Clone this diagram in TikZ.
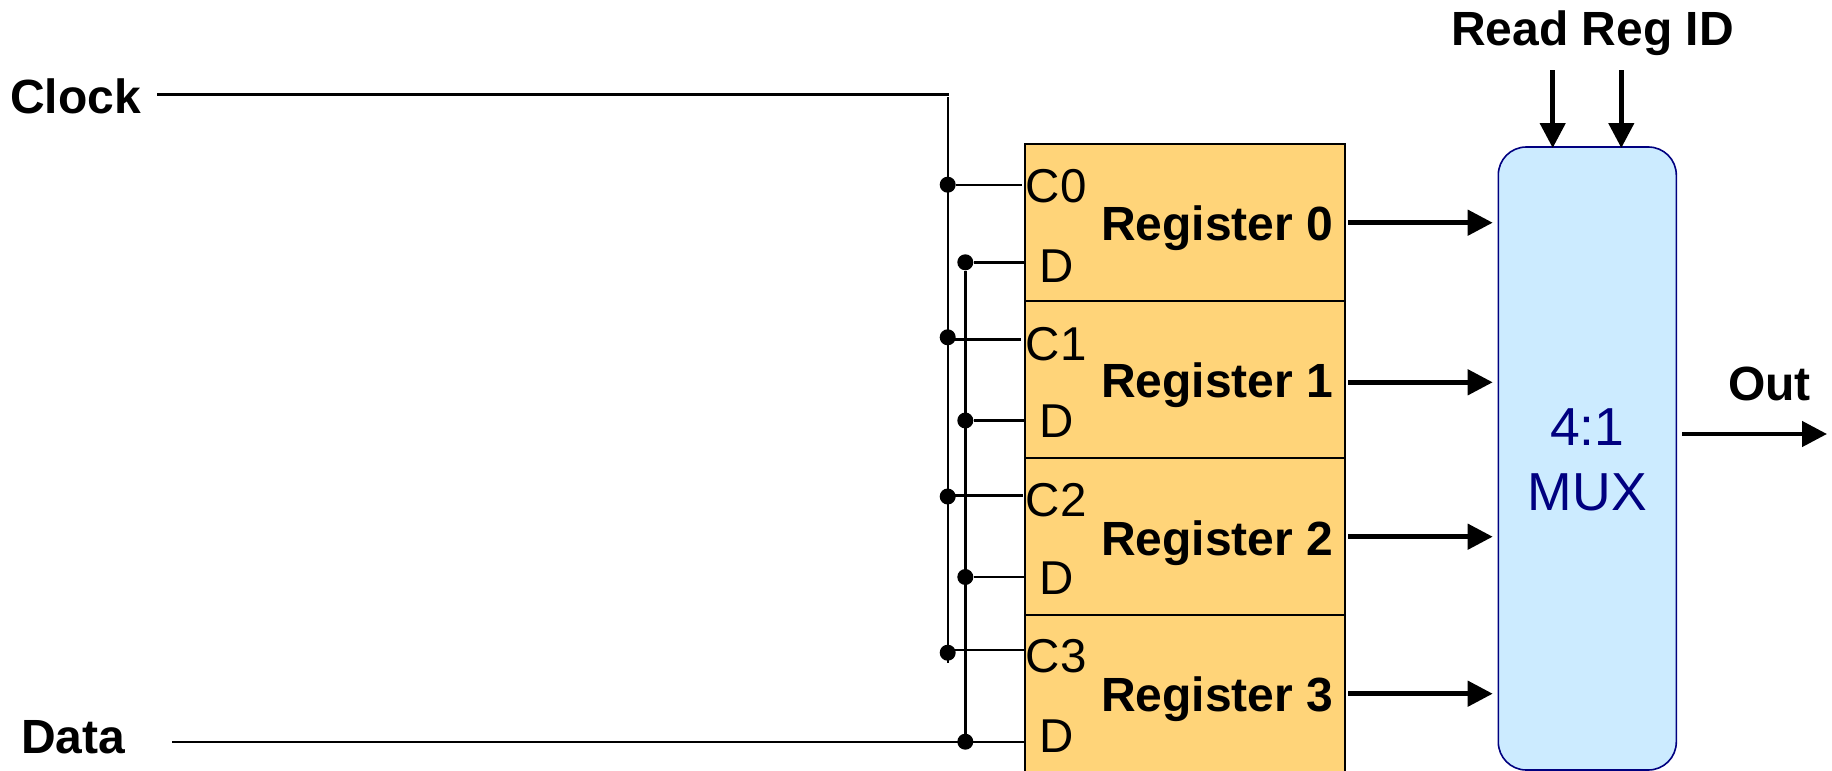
\documentclass[tikz,border=0pt]{standalone}
\usepackage{fontspec}
\setmainfont{Liberation Sans}
\usetikzlibrary{arrows.meta}
\definecolor{regfill}{HTML}{FFD479}
\definecolor{muxfill}{HTML}{CCEBFF}
\definecolor{muxline}{HTML}{000080}
\tikzset{
  regbox/.style={draw=black,line width=2pt,fill=regfill,rectangle,inner sep=0pt,minimum width=320.5pt},
  muxbox/.style={draw=muxline,line width=1.6pt,fill=muxfill,rectangle,rounded corners=28pt,inner sep=0pt,minimum width=178pt,minimum height=623pt},
  bold/.style={inner sep=0pt,anchor=base west,font=\fontsize{48}{48}\selectfont\bfseries},
  port/.style={inner sep=0pt,anchor=base west,font=\fontsize{47.5}{47.5}\selectfont},
  muxtext/.style={inner sep=0pt,anchor=base,text=muxline,font=\fontsize{53.5}{53.5}\selectfont},
  wire/.style={line width=2.4pt},
  bigarrow/.style={line width=4.6pt,-{Triangle[length=25pt,width=25pt]}},
  dot/.style={circle,fill=black,inner sep=0pt,minimum size=16pt}
}
\begin{document}
\begin{tikzpicture}[x=1pt,y=-1pt]
\useasboundingbox (0,0) rectangle (1832,771);
% boxes
\node[regbox,minimum height=157.3pt] (reg0) at (1184.75,222.5) {};
\node[regbox,minimum height=157.3pt] (reg1) at (1184.75,379.8) {};
\node[regbox,minimum height=156.7pt] (reg2) at (1184.75,536.8) {};
\node[regbox,minimum height=157pt] (reg3) at (1184.75,693.5) {};
\node[muxbox] (mux) at (1587.3,458.5) {};
% labels
\node[bold] (clock) at (10,113) {Clock};
\node[bold] (data) at (21,753) {Data};
\node[bold] (readid) at (1451,45.3) {Read Reg ID};
\node[bold] (out) at (1728,400) {Out};
\node[bold] (lab0) at (1101,240) {Register 0};
\node[bold] (lab1) at (1101,397) {Register 1};
\node[bold] (lab2) at (1101,555) {Register 2};
\node[bold] (lab3) at (1101,711.7) {Register 3};
\node[port] (c0) at (1025.5,202.7) {C0};
\node[port] (c1) at (1025.5,360.7) {C1};
\node[port] (c2) at (1025.5,516) {C2};
\node[port] (c3) at (1025.5,672.7) {C3};
\node[port] (d0) at (1039.5,282.5) {D};
\node[port] (d1) at (1039.5,437) {D};
\node[port] (d2) at (1039.5,594.3) {D};
\node[port] (d3) at (1039.5,752.3) {D};
\node[muxtext] (mux1) at (1587.3,445.7) {4:1};
\node[muxtext] (mux2) at (1587.3,510) {MUX};
% dots
\node[dot] (jc0) at (947.7,184.7) {};
\node[dot] (jc1) at (947.7,337.3) {};
\node[dot] (jc2) at (947.7,496.5) {};
\node[dot] (jc3) at (947.7,652.7) {};
\node[dot] (jd0) at (965.3,262.3) {};
\node[dot] (jd1) at (965.3,420.5) {};
\node[dot] (jd2) at (965.3,577) {};
\node[dot] (jd3) at (965.3,741.7) {};
% free wire ends
\coordinate (clkstart) at (157,94.3);
\coordinate (clkcorner) at (948.5,94.3);
\coordinate (clktop) at (947.7,97);
\coordinate (clkend) at (947.7,663);
\coordinate (datastart) at (172,741.7);
\coordinate (p0) at (1021.7,184.7);
\coordinate (p1) at (1021,339.5);
\coordinate (p2) at (1023,495.5);
\coordinate (p3) at (1024,650);
\coordinate (jc3w) at (947.7,650);
\coordinate (jc2w) at (947.7,495.5);
\coordinate (jc1w) at (947.7,339.5);
\coordinate (q0) at (1024.5,262.3);
\coordinate (q1) at (1024.5,420.5);
\coordinate (q2) at (1024.5,577);
\coordinate (q3) at (1024.5,741.7);
% wires
\draw[wire] (clkstart) -- (clkcorner);
\draw[wire] (clktop) -- (clkend);
\draw[wire] (jc0) -- (p0);
\draw[wire] (jc1w) -- (p1);
\draw[wire] (jc2w) -- (p2);
\draw[wire] (jc3w) -- (p3);
\draw[wire,line width=2.8pt] (jd0) -- (jd3);
\draw[wire] (jd0) -- (q0);
\draw[wire] (jd1) -- (q1);
\draw[wire] (jd2) -- (q2);
\draw[wire] (datastart) -- (q3);
% arrows
\coordinate (a0) at (1348.3,222.7); \coordinate (b0) at (1492.7,222.7);
\coordinate (a1) at (1348.3,382.3); \coordinate (b1) at (1492.7,382.3);
\coordinate (a2) at (1348.3,536.7); \coordinate (b2) at (1492.7,536.7);
\coordinate (a3) at (1348.3,693.7); \coordinate (b3) at (1492.7,693.7);
\draw[bigarrow] (a0) -- (b0);
\draw[bigarrow] (a1) -- (b1);
\draw[bigarrow] (a2) -- (b2);
\draw[bigarrow] (a3) -- (b3);
\coordinate (r1a) at (1552.7,70); \coordinate (r1b) at (1552.7,148);
\coordinate (r2a) at (1621.3,70); \coordinate (r2b) at (1621.3,148);
\draw[bigarrow] (r1a) -- (r1b);
\draw[bigarrow] (r2a) -- (r2b);
\coordinate (oa) at (1682.3,434); \coordinate (ob) at (1827,434);
\draw[bigarrow] (oa) -- (ob);
\end{tikzpicture}
\end{document}
